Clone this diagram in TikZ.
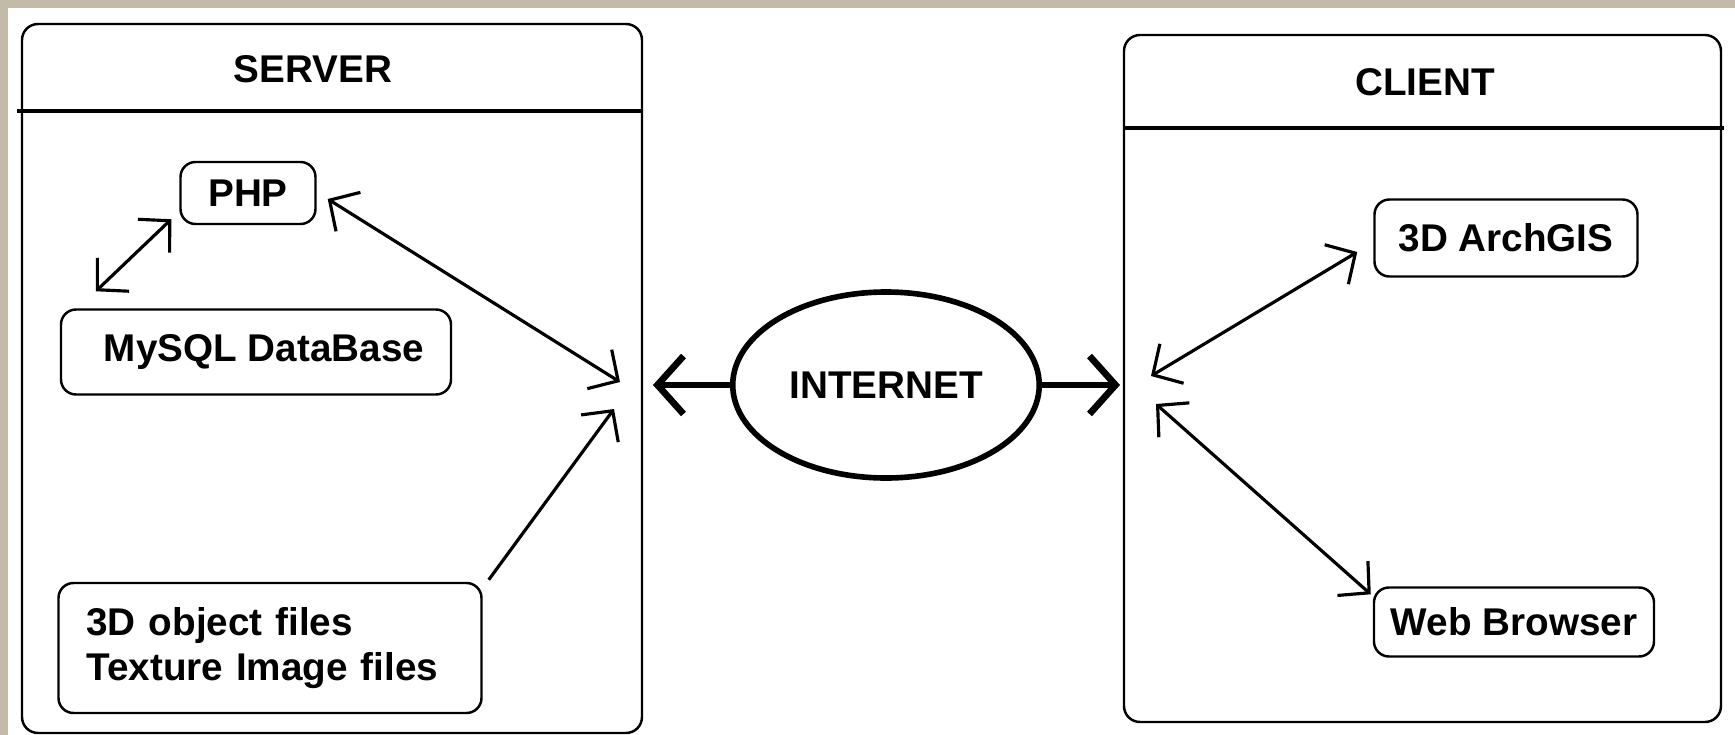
\documentclass[tikz,border=0pt]{standalone}
\usepackage{fontspec}
\setmainfont{Liberation Sans}
\usetikzlibrary{positioning, arrows.meta, shapes.geometric}

\definecolor{stone}{RGB}{196,186,170}

\tikzset{
  panel/.style={draw, line width=0.7pt, rounded corners=1.6mm},
  partbox/.style={draw, line width=0.7pt, rounded corners=1.5mm, inner sep=0pt},
  link/.style={line width=0.9pt, >={Straight Barb[length=2.2mm,width=4.6mm]}},
  netlink/.style={line width=1.9pt, -{Straight Barb[length=2.6mm,width=5.8mm]}},
}

\begin{document}
\begin{tikzpicture}[x=0.1mm, y=-0.1mm, font=\bfseries\fontsize{11}{13}\selectfont]
        \useasboundingbox (0,0) rectangle (1735,735);
        \fill[white] (0,0) rectangle (1735,735);
        \fill[stone] (0,0) rectangle (1735,8);
        \fill[stone] (0,0) rectangle (8,735);
        % server side
        \draw[panel] (22,24) rectangle (642,733);
        \draw[line width=1.4pt] (17,111) -- (642,111);
        \node (server) at (313,69) {SERVER};
        \node[partbox, minimum width=13.5mm, minimum height=6.2mm] (php) at (248,193) {PHP};
        \node[partbox, minimum width=39mm, minimum height=8.5mm] (mysql) at (256,352) {\hspace{1.6mm}MySQL DataBase};
        \node[partbox, text width=36.7mm, inner xsep=2.8mm, minimum height=13mm, align=left] (files) at (270,648) {3D object files\\Texture Image files};
        % client side
        \draw[panel] (1124,35) rectangle (1721,722);
        \draw[line width=1.4pt] (1124,128) -- (1724,128);
        \node (client) at (1425,82) {CLIENT};
        \node[partbox, minimum width=26.3mm, minimum height=7.7mm] (arch) at (1506,238) {3D ArchGIS};
        \node[partbox, minimum width=28mm, minimum height=6.9mm] (web) at (1514,622) {Web Browser};
        % internet
        \node[draw, ellipse, line width=1.6pt, minimum width=30.4mm, minimum height=18.6mm] (inet) at (886,385) {INTERNET};
        \coordinate (srvport) at (653,385);
        \coordinate (cltport) at (1120,385);
        \coordinate (phpend) at (620,382);
        \coordinate (fileend) at (614,409);
        \coordinate (archend) at (1151,376);
        \coordinate (webend) at (1156,404);
        \draw[netlink] (inet) -- (srvport);
        \draw[netlink] (inet) -- (cltport);
        \draw[link, <->] ([xshift=1.1mm,yshift=-0.6mm]php.east) -- (phpend);
        \draw[link, <->] ([xshift=-0.8mm,yshift=0.6mm]php.south west) -- ([xshift=3.6mm,yshift=1.7mm]mysql.north west);
        \draw[link, ->] ([xshift=0.6mm,yshift=0.2mm]files.north east) -- (fileend);
        \draw[link, <->] (archend) -- ([xshift=-1.6mm,yshift=-1.4mm]arch.west);
        \draw[link, <->] (webend) -- ([xshift=-0.2mm,yshift=-0.8mm]web.north west);
\end{tikzpicture}
\end{document}
